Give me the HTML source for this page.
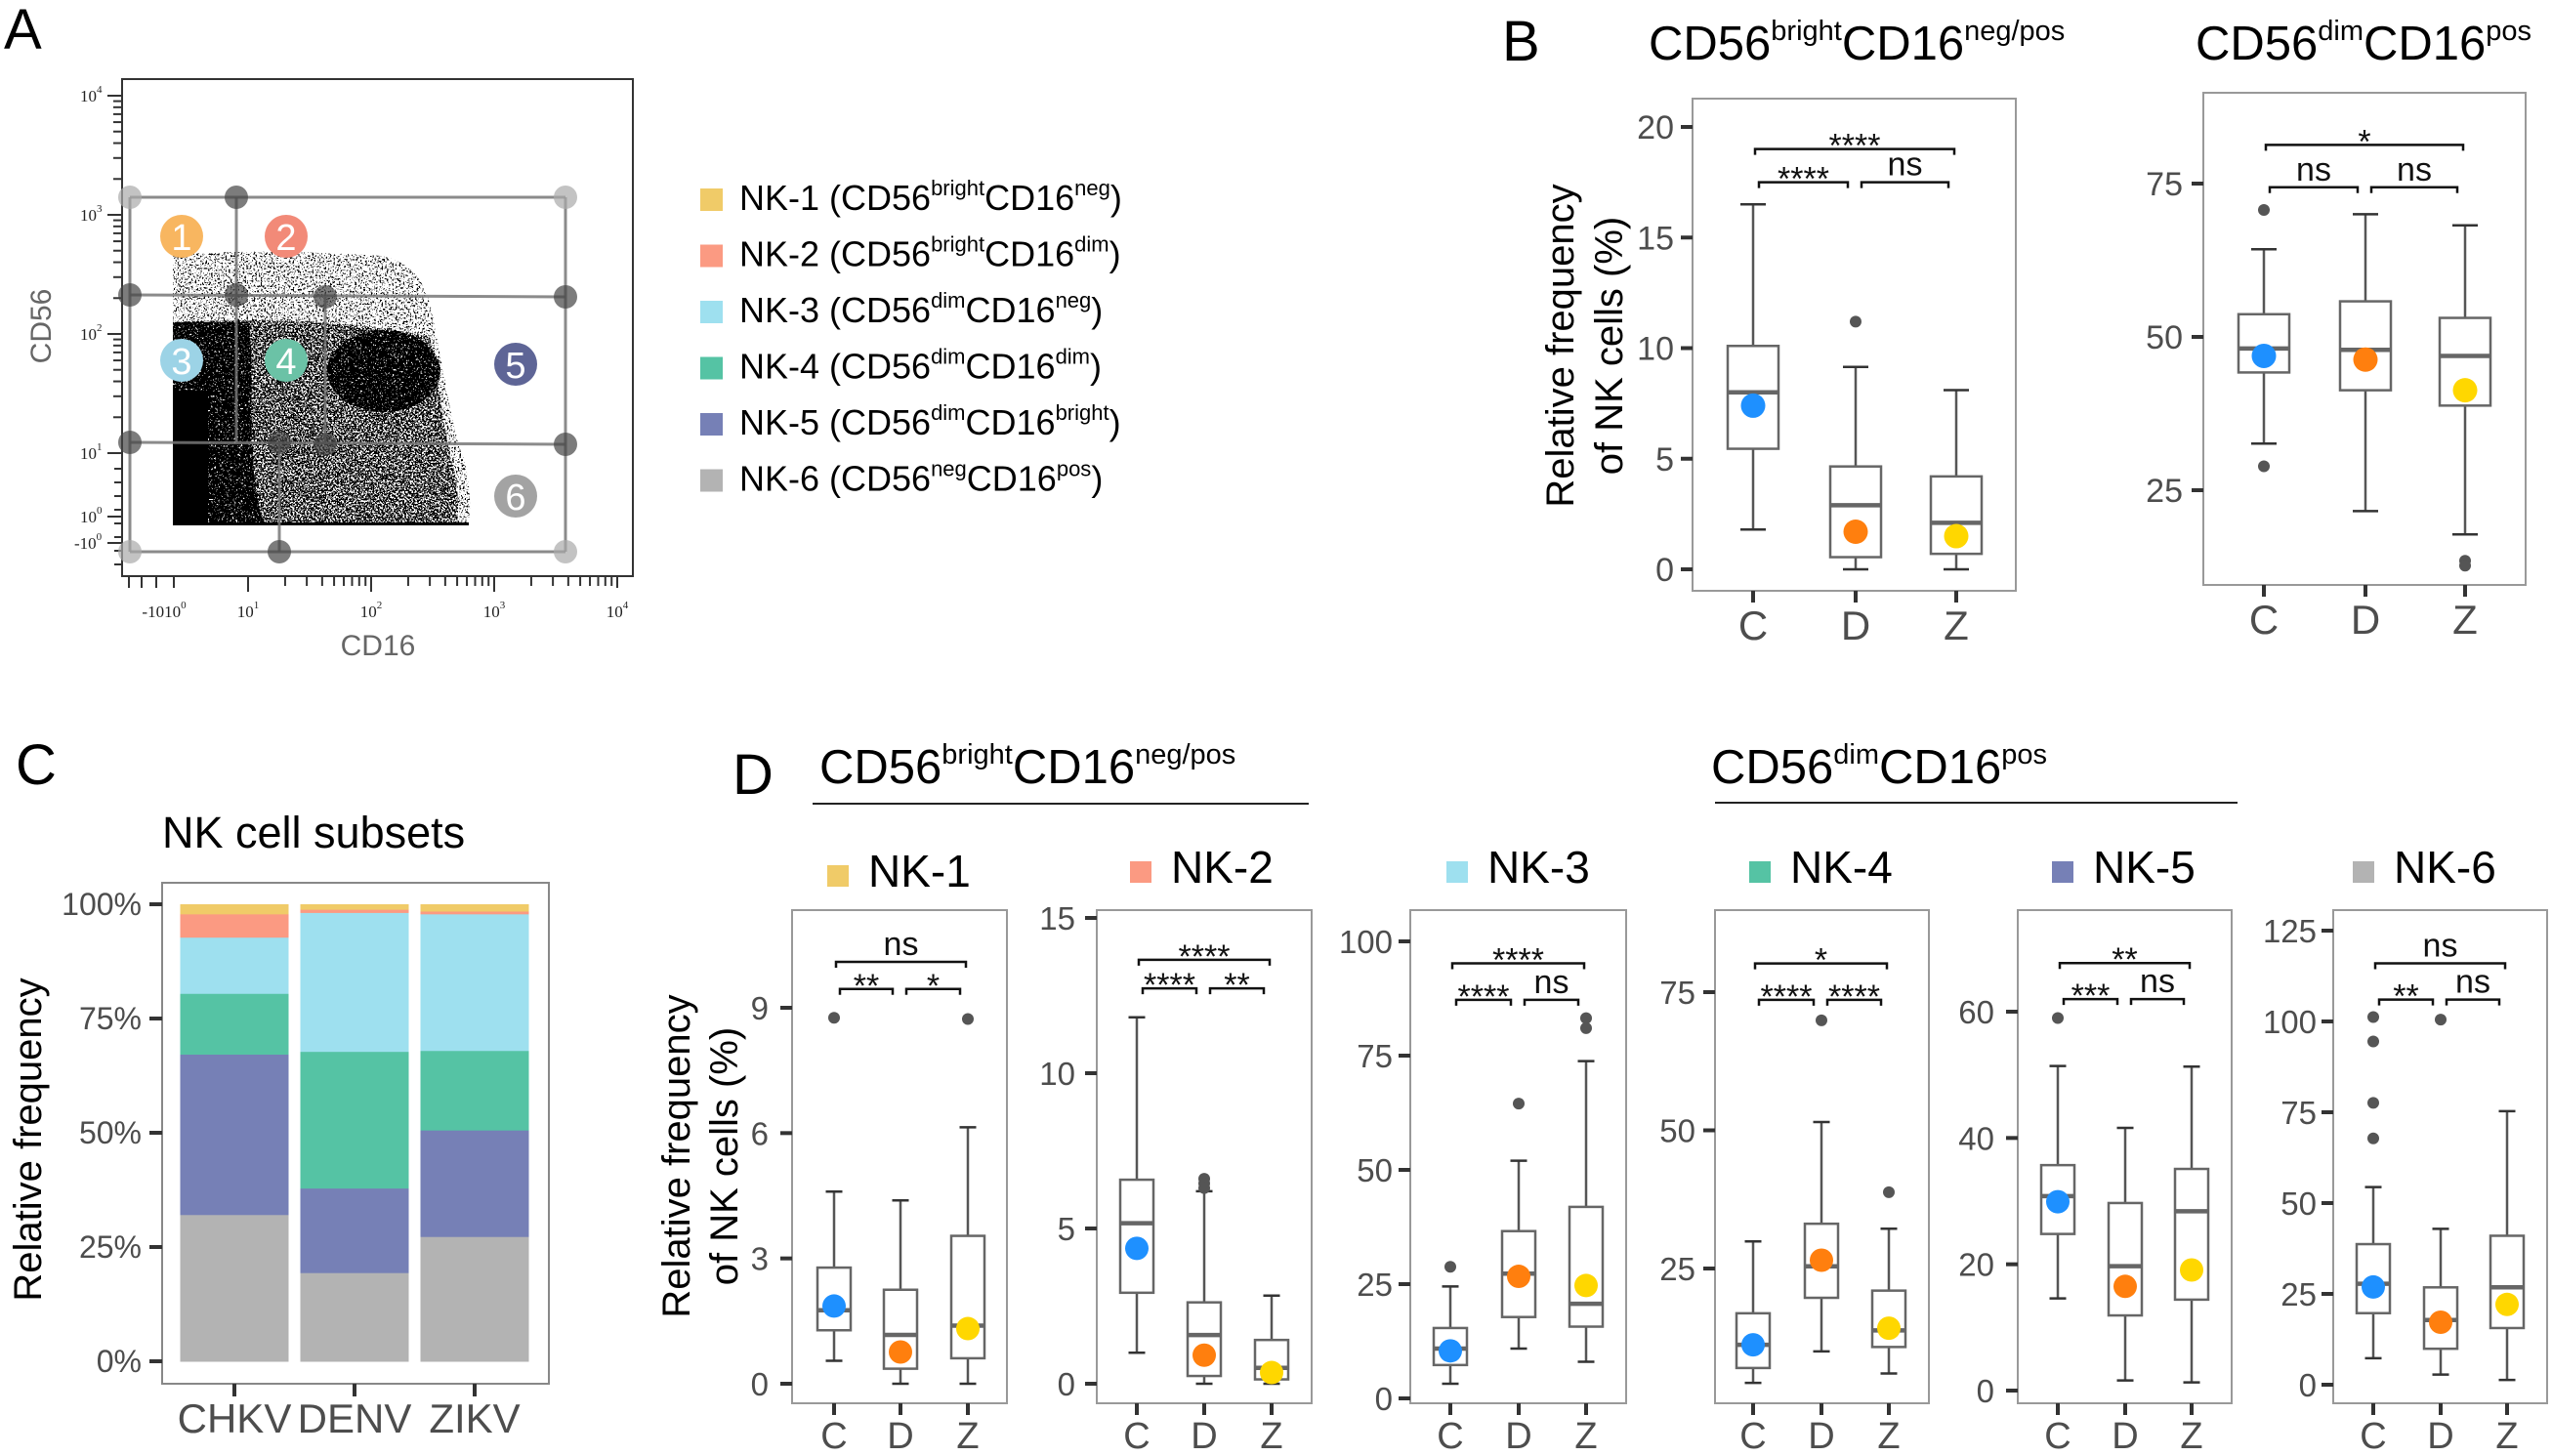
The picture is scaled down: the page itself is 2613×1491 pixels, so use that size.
<!DOCTYPE html>
<html><head><meta charset="utf-8"><title>NK cell subsets figure</title>
<style>
html,body{margin:0;padding:0;background:#fff;}
svg{display:block;font-family:"Liberation Sans",Arial,sans-serif;}
</style></head>
<body>
<svg id="fig" xmlns="http://www.w3.org/2000/svg" width="2613" height="1491" viewBox="0 0 2613 1491">
<rect x="0" y="0" width="2613" height="1491" fill="#fff"/>
<defs>
  <filter id="spSparse" filterUnits="userSpaceOnUse" x="125" y="81" width="523" height="509">
    <feTurbulence type="fractalNoise" baseFrequency="0.55" numOctaves="2" seed="4"/>
    <feColorMatrix type="matrix" values="0 0 0 0 0  0 0 0 0 0  0 0 0 0 0  1 0 0 0 0"/>
    <feComponentTransfer><feFuncA type="discrete" tableValues="0 0 0 0 0 0 1 1 1 1"/></feComponentTransfer>
  </filter>
  <filter id="spMed" filterUnits="userSpaceOnUse" x="125" y="81" width="523" height="509">
    <feTurbulence type="fractalNoise" baseFrequency="0.55" numOctaves="2" seed="7"/>
    <feColorMatrix type="matrix" values="0 0 0 0 0  0 0 0 0 0  0 0 0 0 0  1 0 0 0 0"/>
    <feComponentTransfer><feFuncA type="discrete" tableValues="0 0 0 0 0 1 1 1 1 1"/></feComponentTransfer>
  </filter>
  <filter id="spDense" filterUnits="userSpaceOnUse" x="125" y="81" width="523" height="509">
    <feTurbulence type="fractalNoise" baseFrequency="0.55" numOctaves="2" seed="9"/>
    <feColorMatrix type="matrix" values="0 0 0 0 0  0 0 0 0 0  0 0 0 0 0  1 0 0 0 0"/>
    <feComponentTransfer><feFuncA type="discrete" tableValues="0 0 0 0 1 1 1 1 1 1"/></feComponentTransfer>
  </filter>
  <clipPath id="clipSparse"><path d="M177,262 C230,255 320,258 390,262 C430,270 440,300 445,335 C455,380 460,430 475,470 C482,500 482,520 480,537 L177,537 Z"/></clipPath>
  <clipPath id="clipMed"><path d="M177,330 C260,325 380,330 440,345 C450,390 452,430 462,470 C470,500 470,520 468,537 L177,537 Z"/></clipPath>
  <clipPath id="clipDense"><path d="M177,330 L255,330 C262,400 250,470 270,537 L177,537 Z M335,380 A58,42 0 1 0 451,380 A58,42 0 1 0 335,380 Z"/></clipPath>
</defs>
<!-- panel letters -->
<text x="4" y="50" font-size="58">A</text>
<text x="1538" y="62" font-size="58">B</text>
<text x="16" y="803" font-size="58">C</text>
<text x="750" y="813" font-size="58">D</text>

<text x="1688" y="61" font-size="49">CD56<tspan font-size="29" dy="-20">bright</tspan><tspan font-size="49" dy="20">CD16</tspan><tspan font-size="29" dy="-20">neg/pos</tspan></text>
<text x="2248" y="61" font-size="49">CD56<tspan font-size="29" dy="-20">dim</tspan><tspan font-size="49" dy="20">CD16</tspan><tspan font-size="29" dy="-20">pos</tspan></text>

<text x="839" y="802" font-size="49">CD56<tspan font-size="29" dy="-20">bright</tspan><tspan font-size="49" dy="20">CD16</tspan><tspan font-size="29" dy="-20">neg/pos</tspan></text>
<line x1="832" y1="823" x2="1340" y2="823" stroke="#222" stroke-width="2"/>
<text x="1752" y="802" font-size="49">CD56<tspan font-size="29" dy="-20">dim</tspan><tspan font-size="49" dy="20">CD16</tspan><tspan font-size="29" dy="-20">pos</tspan></text>
<line x1="1756" y1="822" x2="2291" y2="822" stroke="#222" stroke-width="2"/>

<text x="166" y="868" font-size="45">NK cell subsets</text>

<text transform="translate(1611,354) rotate(-90)" text-anchor="middle" font-size="40">Relative frequency</text>
<text transform="translate(1661,354) rotate(-90)" text-anchor="middle" font-size="40">of NK cells (%)</text>
<text transform="translate(42,1167) rotate(-90)" text-anchor="middle" font-size="40">Relative frequency</text>
<text transform="translate(706,1184) rotate(-90)" text-anchor="middle" font-size="40">Relative frequency</text>
<text transform="translate(755,1184) rotate(-90)" text-anchor="middle" font-size="40">of NK cells (%)</text>

<g id="flow">
  <rect x="125" y="81" width="523" height="509" fill="#fff" stroke="#333" stroke-width="2"/>
  <g>
    <g clip-path="url(#clipSparse)"><rect x="125" y="81" width="523" height="509" fill="#000" filter="url(#spSparse)"/></g>
    <g clip-path="url(#clipMed)"><rect x="125" y="81" width="523" height="509" fill="#000" filter="url(#spMed)"/></g>
    <g clip-path="url(#clipDense)"><rect x="125" y="81" width="523" height="509" fill="#000" filter="url(#spDense)"/></g>
    <rect x="177" y="400" width="36" height="137" fill="#000"/>
    <rect x="177" y="535" width="303" height="3" fill="#000"/>
  </g>
  <g id="flowAxes"></g>
  <g id="gates"></g>
  <text x="387" y="671" text-anchor="middle" font-size="30" fill="#666">CD16</text>
  <text transform="translate(52,334) rotate(-90)" text-anchor="middle" font-size="30" fill="#666">CD56</text>
</g>
<g id="legendA"></g>
<g id="panelC"></g>
<g id="panelB"></g>
<g id="panelD"></g>
</svg>
<script>
const cCategories = ['CHKV','DENV','ZIKV'];
const cSubsets = ['NK-6','NK-5','NK-4','NK-3','NK-2','NK-1'];
const cNK6 = [32.1, 19.4, 27.3];
const cNK5 = [35.1, 18.5, 23.3];
const cNK4 = [13.3, 29.9, 17.4];
const cNK3 = [12.3, 30.4, 29.9];
const cNK2 = [5.1, 0.7, 0.6];
const cNK1 = [2.1, 1.1, 1.5];
const cTicks = [0, 25, 50, 75, 100];
const cTickLabels = ['0%','25%','50%','75%','100%'];

const legendNames = ['NK-1','NK-2','NK-3','NK-4','NK-5','NK-6'];
const legendCD56 = ['bright','bright','dim','dim','dim','neg'];
const legendCD16 = ['neg','dim','neg','dim','bright','pos'];

const flowYExp = ['4','3','2','1','0'];
const flowXExp = ['1','2','3','4'];

const groups = ['C','D','Z'];
const bBrightStats = [[1.8,5.45,8.0,10.1,16.5,7.4],[0,0.55,2.9,4.65,9.15,1.7],[0,0.7,2.1,4.2,8.1,1.5]];
const bBrightOut = [[],[11.2],[]];
const bBrightSig = ['****','****','ns'];
const bBrightLevels = [19.0, 17.5];
const bBrightTicks = [0,5,10,15,20];
const bDimStats = [[32.6,44.2,48.1,53.7,64.3,46.9],[21.6,41.3,47.9,55.8,70,46.3],[17.8,38.8,46.9,53.1,68.2,41.3]];
const bDimOut = [[70.7,28.9],[],[13.5,12.7]];
const bDimSig = ['*','ns','ns'];
const bDimLevels = [81.3, 74.4];
const bDimTicks = [25,50,75];

const nk1Stats = [[0.55,1.28,1.76,2.78,4.6,1.86],[0,0.36,1.17,2.25,4.39,0.76],[0,0.61,1.39,3.54,6.14,1.32]];
const nk1Out = [[8.76],[],[8.73]];
const nk1Sig = ['ns','**','*'];
const nk1Levels = [10.1, 9.45];
const nk1Ticks = [0,3,6,9];
const nk2Stats = [[1.0,2.93,5.17,6.57,11.8,4.36],[0,0.25,1.57,2.62,6.2,0.92],[0,0.14,0.51,1.41,2.84,0.36]];
const nk2Out = [[],[6.6,6.45,6.3],[]];
const nk2Sig = ['****','****','**'];
const nk2Levels = [13.65, 12.73];
const nk2Ticks = [0,5,10,15];
const nk3Stats = [[3.2,7.3,10.9,15.4,24.5,10.4],[10.9,17.8,27.3,36.6,52,26.7],[8.0,15.7,20.7,41.9,73.8,24.7]];
const nk3Out = [[28.8],[64.5],[83.2,81]];
const nk3Sig = ['****','****','ns'];
const nk3Levels = [95.2, 87.2];
const nk3Ticks = [0,25,50,75,100];
const nk4Stats = [[4.3,7.0,11.2,16.9,29.9,11.2],[10.0,19.7,25.4,33.1,51.5,26.5],[6.0,10.8,13.8,21.0,32.2,14.2]];
const nk4Out = [[],[69.9],[38.8]];
const nk4Sig = ['*','****','****'];
const nk4Levels = [80.2, 73.6];
const nk4Ticks = [25,50,75];
const nk5Stats = [[14.6,24.8,30.8,35.7,51.4,29.9],[1.6,11.9,19.7,29.7,41.6,16.5],[1.3,14.4,28.4,35.1,51.3,19.1]];
const nk5Out = [[59],[],[]];
const nk5Sig = ['**','***','ns'];
const nk5Levels = [67.7, 62];
const nk5Ticks = [0,20,40,60];
const nk6Stats = [[7.3,19.7,27.8,38.7,54.4,26.9],[2.8,9.9,17.8,26.8,42.9,17.2],[1.3,15.6,26.8,41.0,75.3,22.1]];
const nk6Out = [[101.2,94.5,77.6,67.8],[100.5],[]];
const nk6Sig = ['ns','**','ns'];
const nk6Levels = [116, 106];
const nk6Ticks = [0,25,50,75,100,125];

const NS='http://www.w3.org/2000/svg';
function mk(tag, attrs, parent){
  const e=document.createElementNS(NS,tag);
  for(const k in attrs) e.setAttribute(k, attrs[k]);
  parent.appendChild(e);
  return e;
}
const subsetColors = {'NK-1':'#F0CB68','NK-2':'#FB9A82','NK-3':'#9EE0EF','NK-4':'#55C3A4','NK-5':'#7680B6','NK-6':'#B3B3B3'};
const meanColors = ['#1E90FF','#FF7F0E','#FFD700'];

(function(){
  const g=document.getElementById('legendA');
  legendNames.forEach((n,i)=>{
    const y0=193+i*57.5;
    const sq=mk('rect',{x:717,y:y0,width:23,height:23,fill:subsetColors[n]},g);
    
    
    const t=mk('text',{x:757,y:y0+22,'font-size':36},g);
    
    
    t.innerHTML=n+' (CD56<tspan font-size="22" dy="-15">'+legendCD56[i]+'</tspan><tspan font-size="36" dy="15">CD16</tspan><tspan font-size="22" dy="-15">'+legendCD16[i]+'</tspan><tspan font-size="36" dy="15">)</tspan>';
  });
})();

(function(){
  const g=document.getElementById('flowAxes');
  const yDec=v=>464-(v-1)*122;
  const xDec=v=>254+(v-1)*126;
  for(let d=1; d<4; d++){
    for(let m=1;m<10;m++){
      const yy=yDec(d+Math.log10(m));
      const t=mk('line',{x1:m===1?110:116,y1:yy,x2:125,y2:yy,stroke:'#333','stroke-width':2},g);
      
      
    }
  }
  [yDec(4),529,556].forEach(yy=>{
    const t=mk('line',{x1:110,y1:yy,x2:125,y2:yy,stroke:'#333','stroke-width':2},g);
    
    
  });
  for(let yy=480; yy<590; yy+=14){
    const t=mk('line',{x1:117,y1:yy,x2:125,y2:yy,stroke:'#333','stroke-width':2},g);
    
    
  }
  flowYExp.forEach((e,i)=>{
    const yy=i<4?yDec(4-i):529;
    const t=mk('text',{x:82,y:yy+6,'font-size':17,'font-family':'Liberation Serif, serif',fill:'#222'},g);
    
    
    t.innerHTML='10<tspan font-size="11" dy="-9">'+e+'</tspan>';
  });
  const tn=mk('text',{x:76,y:562,'font-size':17,'font-family':'Liberation Serif, serif',fill:'#222'},g);
  
  
  tn.innerHTML='-10<tspan font-size="11" dy="-9">0</tspan>';
  for(let d=1; d<4; d++){
    for(let m=1;m<10;m++){
      const xx=xDec(d+Math.log10(m));
      const t=mk('line',{x1:xx,y1:590,x2:xx,y2:m===1?606:600,stroke:'#333','stroke-width':2},g);
      
      
    }
  }
  [xDec(4),178,160,145,132].forEach(xx=>{
    const t=mk('line',{x1:xx,y1:590,x2:xx,y2:602,stroke:'#333','stroke-width':2},g);
    
    
  });
  flowXExp.forEach((e,i)=>{
    const t=mk('text',{x:xDec(i+1),y:632,'font-size':17,'text-anchor':'middle','font-family':'Liberation Serif, serif',fill:'#222'},g);
    
    
    t.innerHTML='10<tspan font-size="11" dy="-9">'+e+'</tspan>';
  });
  const tx=mk('text',{x:168,y:632,'font-size':17,'text-anchor':'middle','font-family':'Liberation Serif, serif',fill:'#222'},g);
  
  
  tx.innerHTML='-1010<tspan font-size="11" dy="-9">0</tspan>';

  const gg=document.getElementById('gates');
  const lines=[[133,202,579,202],[133,302,579,304],[133,453,579,455],[133,565,579,565],[133,202,133,565],[579,202,579,565],[242,202,242,453],[333,304,333,455],[286,453,286,565]];
  lines.forEach(l=>{
    const e=mk('line',{x1:l[0],y1:l[1],x2:l[2],y2:l[3],stroke:'#777','stroke-width':3,opacity:0.85},gg);
    
    
  });
  const dark=[[242,202],[133,302],[242,302],[333,304],[579,304],[133,453],[286,453],[333,455],[579,455],[286,565]];
  const light=[[133,202],[579,202],[133,565],[579,565]];
  light.forEach(p=>{const c=mk('circle',{cx:p[0],cy:p[1],r:12,fill:'#aaa',opacity:0.7},gg);
    
    });
  dark.forEach(p=>{const c=mk('circle',{cx:p[0],cy:p[1],r:12,fill:'#444',opacity:0.7},gg);
    
    });
  const badges=[[186,242,'#F8B660','1'],[293,242,'#F28A78','2'],[186,369,'#9CD3E6','3'],[293,369,'#6BC2A6','4'],[528,373,'#5E6596','5'],[528,508,'#A3A3A3','6']];
  badges.forEach(b=>{
    const c=mk('circle',{cx:b[0],cy:b[1],r:22,fill:b[2]},gg);
    
    
    const t=mk('text',{x:b[0],y:b[1]+14,'text-anchor':'middle','font-size':38,fill:'#fff'},gg);
    
    
    t.textContent=b[3];
  });
})();

(function(){
  const g=document.getElementById('panelC');
  const y=v=>1394-(v/100)*(1394-926);
  const xc=[240,363,486], bw=111;
  const fr=mk('rect',{x:166,y:904,width:396,height:513,fill:'none',stroke:'#888','stroke-width':2},g);
  
  
  const series=[cNK6,cNK5,cNK4,cNK3,cNK2,cNK1];
  cCategories.forEach((cat,i)=>{
    let acc=0;
    series.forEach((s,j)=>{
      const r=mk('rect',{x:xc[i]-bw/2,y:y(acc+s[i]),width:bw,height:y(acc)-y(acc+s[i])+0.5,fill:subsetColors[cSubsets[j]]},g);
      
      
      acc+=s[i];
    });
    const tk=mk('line',{x1:xc[i],y1:1417,x2:xc[i],y2:1430,stroke:'#333','stroke-width':4},g);
    
    
    const t=mk('text',{x:xc[i],y:1467,'text-anchor':'middle','font-size':42,fill:'#4d4d4d'},g);
    
    
    t.textContent=cat;
  });
  cTicks.forEach((v,i)=>{
    const tk=mk('line',{x1:153,y1:y(v),x2:166,y2:y(v),stroke:'#333','stroke-width':4},g);
    
    
    const t=mk('text',{x:145,y:y(v)+11,'text-anchor':'end','font-size':32,fill:'#4d4d4d'},g);
    
    
    t.textContent=cTickLabels[i];
  });
})();

function boxPanel(parent, name, cfg, ticks, stats, outs, sig, levels){
  const g=mk('g',{},parent);
  
  
  const t0=ticks[0], t1=ticks[ticks.length-1];
  const ppu=(cfg.p0-cfg.p1)/(t1-t0);
  const y=v=>cfg.p0-(v-t0)*ppu;
  const fr=mk('rect',{x:cfg.f[0],y:cfg.f[2],width:cfg.f[1]-cfg.f[0],height:cfg.f[3]-cfg.f[2],fill:'#fff',stroke:'#999','stroke-width':2},g);
  
  
  ticks.forEach(v=>{
    const tk=mk('line',{x1:cfg.f[0]-12,y1:y(v),x2:cfg.f[0],y2:y(v),stroke:'#333','stroke-width':4},g);
    
    
    const t=mk('text',{x:cfg.lr,y:y(v)+12,'text-anchor':'end','font-size':cfg.fs,fill:'#4d4d4d'},g);
    
    
    t.textContent=v;
  });
  const bw=cfg.bw, cw=cfg.cw;
  groups.forEach((gname,i)=>{
    const x=cfg.xs[i], s=stats[i];
    const tk=mk('line',{x1:x,y1:cfg.f[3],x2:x,y2:cfg.f[3]+12,stroke:'#333','stroke-width':4},g);
    
    
    const tl=mk('text',{x:x,y:cfg.f[3]+cfg.xl,'text-anchor':'middle','font-size':cfg.xfs,fill:'#4d4d4d'},g);
    
    
    tl.textContent=gname;
    const wh=mk('line',{x1:x,y1:y(s[0]),x2:x,y2:y(s[4]),stroke:'#555','stroke-width':2.5},g);
    
    
    [s[0],s[4]].forEach(v=>{
      const c=mk('line',{x1:x-cw/2,y1:y(v),x2:x+cw/2,y2:y(v),stroke:'#333','stroke-width':2.5},g);
      
      
    });
    const b=mk('rect',{x:x-bw/2,y:y(s[3]),width:bw,height:y(s[1])-y(s[3]),fill:'#fff',stroke:'#666','stroke-width':2.5},g);
    
    
    const md=mk('line',{x1:x-bw/2,y1:y(s[2]),x2:x+bw/2,y2:y(s[2]),stroke:'#666','stroke-width':4.5},g);
    
    
    outs[i].forEach(v=>{
      const o=mk('circle',{cx:x,cy:y(v),r:6,fill:'#555'},g);
      
      
    });
    const m=mk('circle',{cx:x,cy:y(s[5]),r:cfg.mr,fill:meanColors[i]},g);
    
    
  });
  const xs=cfg.xs;
  const br=[[xs[0]+2,xs[2]-2,levels[0],sig[0]],[xs[0]+6,xs[1]-8,levels[1],sig[1]],[xs[1]+6,xs[2]-8,levels[1],sig[2]]];
  br.forEach((b,k)=>{
    const yy=y(b[2]);
    const p=mk('path',{d:'M'+b[0]+','+(yy+6)+' V'+yy+' H'+b[1]+' V'+(yy+6),fill:'none',stroke:'#111','stroke-width':2.5},g);
    
    
    const isStar=b[3].indexOf('*')>=0;
    const t=mk('text',{x:(b[0]+b[1])/2,y:isStar?yy+8:yy-7,'text-anchor':'middle','font-size':34,fill:'#111'},g);
    
    
    t.textContent=b[3];
  });
}
(function(){
  const B=document.getElementById('panelB');
  boxPanel(B,'b-bright',{f:[1733,2064,101,605],p0:583,p1:130,xs:[1795,1900,2003],lr:1714,fs:34,bw:52,cw:26,mr:12.5,xl:50,xfs:42},bBrightTicks,bBrightStats,bBrightOut,bBrightSig,bBrightLevels);
  boxPanel(B,'b-dim',{f:[2256,2586,95,599],p0:502,p1:188,xs:[2318,2422,2524],lr:2235,fs:34,bw:52,cw:26,mr:12.5,xl:50,xfs:42},bDimTicks,bDimStats,bDimOut,bDimSig,bDimLevels);
  const D=document.getElementById('panelD');
  const f=[932,1437];
  boxPanel(D,'nk1',{f:[811,1031,f[0],f[1]],p0:1417,p1:1032,xs:[854,922,991],lr:787,fs:33,bw:34,cw:17,mr:12,xl:46,xfs:38},nk1Ticks,nk1Stats,nk1Out,nk1Sig,nk1Levels);
  boxPanel(D,'nk2',{f:[1123,1343,f[0],f[1]],p0:1417,p1:940,xs:[1164,1233,1302],lr:1101,fs:33,bw:34,cw:17,mr:12,xl:46,xfs:38},nk2Ticks,nk2Stats,nk2Out,nk2Sig,nk2Levels);
  boxPanel(D,'nk3',{f:[1444,1665,f[0],f[1]],p0:1432,p1:964,xs:[1485,1555,1624],lr:1426,fs:33,bw:34,cw:17,mr:12,xl:46,xfs:38},nk3Ticks,nk3Stats,nk3Out,nk3Sig,nk3Levels);
  boxPanel(D,'nk4',{f:[1756,1975,f[0],f[1]],p0:1299,p1:1016,xs:[1795,1865,1934],lr:1736,fs:33,bw:34,cw:17,mr:12,xl:46,xfs:38},nk4Ticks,nk4Stats,nk4Out,nk4Sig,nk4Levels);
  boxPanel(D,'nk5',{f:[2066,2285,f[0],f[1]],p0:1424,p1:1036,xs:[2107,2176,2244],lr:2042,fs:33,bw:34,cw:17,mr:12,xl:46,xfs:38},nk5Ticks,nk5Stats,nk5Out,nk5Sig,nk5Levels);
  boxPanel(D,'nk6',{f:[2389,2608,f[0],f[1]],p0:1418,p1:953,xs:[2430,2499,2567],lr:2372,fs:33,bw:34,cw:17,mr:12,xl:46,xfs:38},nk6Ticks,nk6Stats,nk6Out,nk6Sig,nk6Levels);
  const titles=[[847,908,'NK-1'],[1157,904,'NK-2'],[1481,904,'NK-3'],[1791,904,'NK-4'],[2101,904,'NK-5'],[2409,904,'NK-6']];
  titles.forEach(tt=>{
    const sq=mk('rect',{x:tt[0],y:tt[1]-22,width:22,height:22,fill:subsetColors[tt[2]]},D);
    
    
    const t=mk('text',{x:tt[0]+42,y:tt[1],'font-size':46},D);
    
    
    t.textContent=tt[2];
  });
})();
</script>
</body></html>
